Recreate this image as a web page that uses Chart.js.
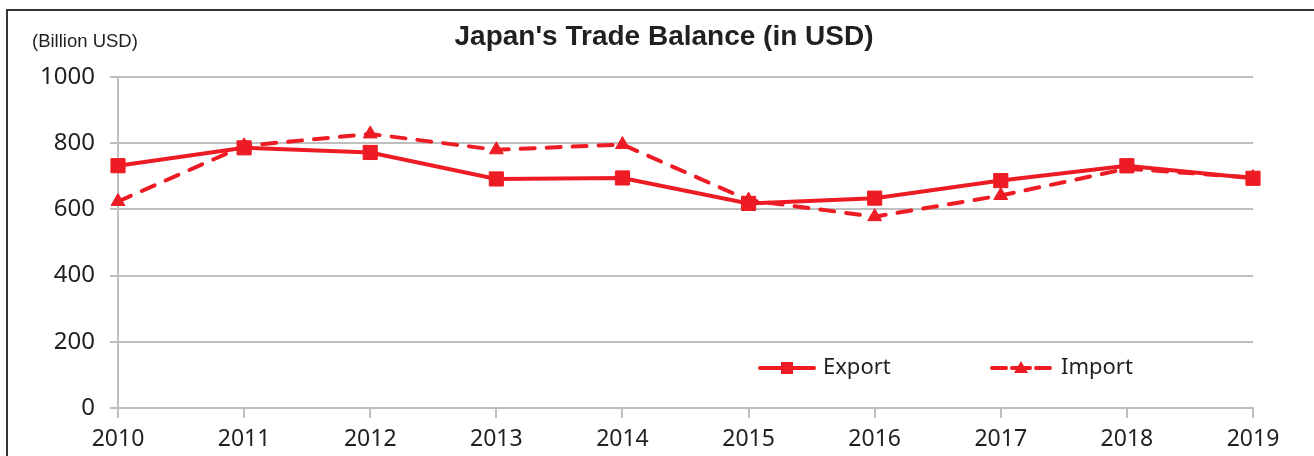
<!DOCTYPE html>
<html>
<head>
<meta charset="utf-8">
<script src="https://cdn.jsdelivr.net/npm/chart.js@4/dist/chart.umd.min.js"></script>
<style>
  html, body { margin: 0; padding: 0; background: #fff; }
  canvas { display: block; }
</style>
</head>
<body>
<canvas id="myChart" width="1314" height="456"></canvas>
<script>
const years = ["2010", "2011", "2012", "2013", "2014", "2015", "2016", "2017", "2018", "2019"];
const exportValues = [732, 786, 772, 692, 695, 618, 634, 687, 732, 694];
const importValues = [624, 792, 828, 780, 796, 628, 578, 642, 723, 696];
const yTicks = [0, 200, 400, 600, 800, 1000];

const RED = "#ed1c24";
const GRID = "#bfbfbf";
const TEXT = "#231f20";

// frame, title, unit label and the legend inside the plot
const extras = {
  id: "extras",
  beforeDraw(chart) {
    const { ctx } = chart;
    ctx.save();
    ctx.fillStyle = "#fff";
    ctx.fillRect(0, 0, chart.width, chart.height);
    ctx.strokeStyle = "#333";
    ctx.lineWidth = 2;
    ctx.beginPath();
    ctx.moveTo(7, chart.height);
    ctx.lineTo(7, 10);
    ctx.lineTo(chart.width, 10);
    ctx.stroke();
    ctx.restore();
  },
  afterDraw(chart) {
    const { ctx } = chart;
    ctx.save();
    ctx.fillStyle = TEXT;
    ctx.textBaseline = "middle";
    ctx.textAlign = "center";
    ctx.font = "bold 28px 'Liberation Sans', Arial, sans-serif";
    ctx.fillText("Japan's Trade Balance (in USD)", 664, 37);

    ctx.textAlign = "left";
    ctx.font = "18.5px 'Liberation Sans', Arial, sans-serif";
    ctx.fillText("(Billion USD)", 32, 42);

    const ly = 368;
    ctx.strokeStyle = RED;
    ctx.fillStyle = RED;
    ctx.lineWidth = 4;
    ctx.lineCap = "round";
    // Export
    ctx.beginPath();
    ctx.moveTo(760, ly);
    ctx.lineTo(814, ly);
    ctx.stroke();
    ctx.fillRect(781, ly - 6, 12, 12);
    // Import
    ctx.beginPath();
    ctx.moveTo(992, ly);
    ctx.lineTo(1006, ly);
    ctx.moveTo(1036, ly);
    ctx.lineTo(1050, ly);
    ctx.stroke();
    ctx.beginPath();
    ctx.moveTo(1021, ly - 7);
    ctx.lineTo(1028, ly + 5);
    ctx.lineTo(1014, ly + 5);
    ctx.closePath();
    ctx.fill();
    ctx.beginPath();
    ctx.moveTo(1012, ly);
    ctx.lineTo(1030, ly);
    ctx.stroke();

    ctx.fillStyle = TEXT;
    ctx.font = "22px 'Noto Sans', sans-serif";
    ctx.fillText("Export", 823, ly);
    ctx.fillText("Import", 1061, ly);
    ctx.restore();
  }
};

const ctx = document.getElementById("myChart");

const myChart = new Chart(ctx, {
  type: "line",
  plugins: [extras],
  data: {
    labels: years,
    datasets: [
      {
        label: "Export",
        data: exportValues,
        borderColor: RED,
        backgroundColor: RED,
        borderWidth: 4,
        tension: 0,
        pointStyle: "rect",
        pointRadius: 10,
        pointBorderWidth: 1,
        pointBorderColor: RED,
        pointBackgroundColor: RED,
      },
      {
        label: "Import",
        data: importValues,
        borderColor: RED,
        backgroundColor: RED,
        borderWidth: 4,
        borderDash: [14, 12],
        borderCapStyle: "round",
        tension: 0,
        pointStyle: "triangle",
        pointRadius: 8,
        pointBorderWidth: 1,
        pointBorderColor: RED,
        pointBackgroundColor: RED,
      },
    ],
  },
  options: {
    responsive: false,
    animation: false,
    devicePixelRatio: 1,
    layout: {
      padding: { left: 20, right: 61, top: 77, bottom: 0 },
    },
    plugins: {
      legend: { display: false },
      tooltip: { enabled: false },
      title: { display: false },
    },
    scales: {
      y: {
        min: 0,
        max: 1000,
        afterFit(scale) { scale.width = 98; },
        afterBuildTicks(scale) { scale.ticks = yTicks.map((v) => ({ value: v })); },
        grid: { color: GRID, lineWidth: 2, tickLength: 8 },
        border: { display: true, color: GRID, width: 2 },
        ticks: {
          color: TEXT,
          padding: 15,
          callback: (v) => String(v),
          font: { family: "'Noto Sans', sans-serif", size: 24 },
        },
      },
      x: {
        afterFit(scale) { scale.height = 48; },
        grid: { color: GRID, lineWidth: 2, drawOnChartArea: false, tickLength: 10 },
        border: { display: true, color: GRID, width: 2 },
        ticks: {
          color: TEXT,
          padding: 8,
          autoSkip: false,
          maxRotation: 0,
          font: { family: "'Noto Sans', sans-serif", size: 23 },
        },
      },
    },
  },
});
</script>
</body>
</html>
